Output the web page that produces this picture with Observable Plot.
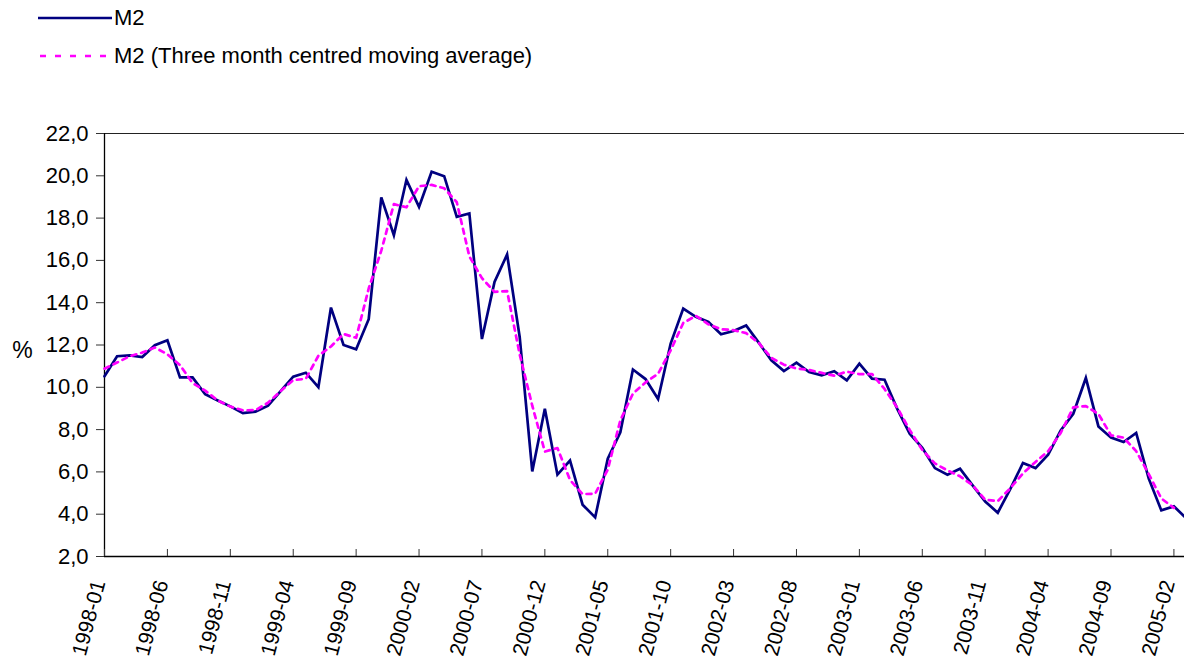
<!DOCTYPE html>
<html>
<head>
<meta charset="utf-8">
<script src="https://cdn.jsdelivr.net/npm/d3@7"></script>
<script src="https://cdn.jsdelivr.net/npm/@observablehq/plot@0.6"></script>
<style>
  html, body { margin: 0; padding: 0; background: #fff; overflow: hidden; }
  body { width: 1184px; height: 664px; position: relative; font-family: "Liberation Sans", Arial, sans-serif; }
  #legend { position: relative; width: 1184px; height: 80px; }
  .lg-item { position: absolute; left: 0; width: 700px; height: 28px; }
  .lg-item svg { position: absolute; left: 0; top: 0; }
  .lg-item span { position: absolute; left: 114px; top: 0; font-size: 22px; line-height: 28px; color: #000; white-space: nowrap; }
  #chart svg { display: block; }
</style>
</head>
<body>
<div id="legend"></div>
<div id="chart"></div>
<script>
// Series names
const seriesM2 = "M2";
const seriesMA = "M2 (Three month centred moving average)";

// Monthly categories 1998-01 .. 2005-03
const months = d3.utcMonth.range(new Date(Date.UTC(1998, 0, 1)), new Date(Date.UTC(2005, 3, 1))).map(d3.utcFormat("%Y-%m"));

// M2 annual growth, %
const m2 = [
  10.52, 11.47, 11.51, 11.43, 11.99, 12.22, 10.47, 10.47, 9.67, 9.38,
  9.10, 8.78, 8.85, 9.13, 9.82, 10.50, 10.69, 10.01, 13.77, 12.00,
  11.80, 13.22, 18.98, 17.19, 19.81, 18.53, 20.19, 19.98, 18.06, 18.22,
  12.28, 14.98, 16.28, 12.38, 6.02, 8.99, 5.87, 6.54, 4.45, 3.85,
  6.62, 7.87, 10.84, 10.39, 9.45, 12.07, 13.72, 13.33, 13.09, 12.51,
  12.66, 12.92, 12.11, 11.28, 10.77, 11.17, 10.72, 10.57, 10.76, 10.33,
  11.12, 10.41, 10.36, 8.99, 7.81, 7.14, 6.18, 5.87, 6.15, 5.36,
  4.60, 4.07, 5.20, 6.42, 6.18, 6.81, 7.96, 8.75, 10.44, 8.15,
  7.62, 7.41, 7.84, 5.68, 4.18, 4.37, 3.80
];

// Three month centred moving average, %
const m2ma = [
  10.88, 11.17, 11.47, 11.64, 11.88, 11.56, 11.05, 10.20, 9.84, 9.38,
  9.09, 8.91, 8.92, 9.27, 9.82, 10.34, 10.40, 11.49, 11.93, 12.52,
  12.34, 14.67, 16.46, 18.66, 18.51, 19.51, 19.57, 19.41, 18.75, 16.19,
  15.16, 14.51, 14.55, 11.56, 9.13, 6.96, 7.13, 5.62, 4.95, 4.97,
  6.11, 8.44, 9.70, 10.23, 10.64, 11.75, 13.04, 13.38, 12.98, 12.75,
  12.70, 12.56, 12.10, 11.39, 11.07, 10.89, 10.82, 10.68, 10.55, 10.74,
  10.62, 10.63, 9.92, 9.05, 7.98, 7.04, 6.40, 6.07, 5.79, 5.37,
  4.68, 4.62, 5.23, 5.93, 6.47, 6.98, 7.84, 9.05, 9.11, 8.74,
  7.73, 7.62, 6.98, 5.90, 4.74, 4.30
];

// Axis tick labels
const xTickLabels = ["1998-01","1998-06","1998-11","1999-04","1999-09","2000-02","2000-07","2000-12","2001-05","2001-10","2002-03","2002-08","2003-01","2003-06","2003-11","2004-04","2004-09","2005-02"];
const yTicks = [2, 4, 6, 8, 10, 12, 14, 16, 18, 20, 22];
const yLabel = "%";

const navy = "#000080";
const magenta = "#ff00ff";

// Legend (HTML above the SVG)
const legend = document.getElementById("legend");
legend.innerHTML = `
  <div class="lg-item" style="top:4px;">
    <svg width="114" height="28"><line x1="38" x2="112" y1="14" y2="14" stroke="${navy}" stroke-width="2.6"/></svg>
    <span>${seriesM2}</span>
  </div>
  <div class="lg-item" style="top:42px;">
    <svg width="114" height="28"><line x1="40" x2="106" y1="14" y2="14" stroke="${magenta}" stroke-width="2.6" stroke-dasharray="6,9"/></svg>
    <span>${seriesMA}</span>
  </div>`;

const dataM2 = months.map((m, i) => ({month: m, value: m2[i]}));
const dataMA = m2ma.map((v, i) => ({month: months[i], value: v}));

const fmt = d => d.toFixed(1).replace(".", ",");

const chart = Plot.plot({
  width: 1184,
  height: 584,
  marginTop: 53,
  marginBottom: 108,
  marginLeft: 104,
  marginRight: -2,
  style: {fontFamily: "'Liberation Sans', Arial, sans-serif", fontSize: "22px", color: "#000", background: "#fff", overflow: "hidden"},
  x: {type: "point", domain: months, padding: 0, axis: null},
  y: {domain: [2, 22], axis: null},
  marks: [
    // plot area border (top) and axes lines
    Plot.ruleY([22], {stroke: "#222", strokeWidth: 1}),
    Plot.ruleY([2], {stroke: "#000", strokeWidth: 1.3}),
    Plot.ruleX([months[0]], {stroke: "#000", strokeWidth: 1.3}),
    // y axis
    Plot.axisY(yTicks, {
      tickSize: 8, tickPadding: 8, tickFormat: fmt, fontSize: 22,
      stroke: "#333", strokeWidth: 1, color: "#000", label: null
    }),
    Plot.text([yLabel], {frameAnchor: "left", dx: -82, dy: 6, fontSize: 23, fill: "#000", textAnchor: "middle"}),
    // x ticks (inside) and rotated labels
    Plot.tickX(xTickLabels, {x: d => d, insetTop: 416, stroke: "#333", strokeWidth: 1}),
    Plot.text(xTickLabels, {
      x: d => d, frameAnchor: "bottom", dy: 26, dx: 1,
      rotate: -75, textAnchor: "end", fontSize: 21, fill: "#000"
    }),
    // series
    Plot.line(dataM2, {x: "month", y: "value", stroke: navy, strokeWidth: 2.7, strokeLinejoin: "miter", strokeMiterlimit: 4}),
    Plot.line(dataMA, {x: "month", y: "value", stroke: magenta, strokeWidth: 2.7, strokeDasharray: "5,5"})
  ]
});
document.getElementById("chart").appendChild(chart);
</script>
</body>
</html>
